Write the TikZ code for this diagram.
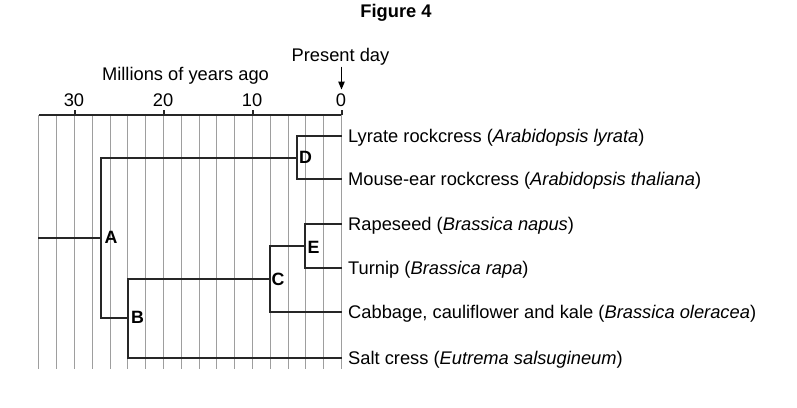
\documentclass[tikz,border=0pt]{standalone}
\usepackage{fontspec}
\setmainfont{Liberation Sans}
\usetikzlibrary{arrows.meta}
\begin{document}
\begin{tikzpicture}[x=1pt,y=-1pt,
  txt/.style={inner sep=0pt,font=\fontsize{18.3}{21}\selectfont},
  leaf/.style={txt,anchor=base west},
  letter/.style={inner sep=0pt,anchor=west,font=\fontsize{17.8}{21}\selectfont\bfseries},
  grid/.style={draw=black!38,line width=1pt},
  axis/.style={draw=black!85,line width=2pt},
  branch/.style={draw=black!85,line width=2pt,line cap=rect}]
\useasboundingbox (0,0) rectangle (797,407);
% grid
\foreach \k in {0,2,...,34}
  \draw[grid] ({round(341-8.9*\k)+0.5},115) -- ({round(341-8.9*\k)+0.5},369);
% axis
\draw[axis] (39,115) -- (341,115);
\foreach \k in {0,10,20,30}{
  \draw[axis] ({round(341-8.9*\k)+0.5},115) -- ({round(341-8.9*\k)+0.5},110);
  \node[txt,anchor=base] at ({341-8.9*\k},106.7) {\k};
}
\node[txt,anchor=base] (title) at (396,17.3) {\bfseries Figure 4};
\node[txt,anchor=base] (present) at (340.5,61.7) {Present day};
\node[txt,anchor=base] (myears) at (185.5,80.7) {Millions of years ago};
\coordinate (arrtop) at (341.5,66.7);
\coordinate (arrbot) at (341.5,89.5);
\draw[line width=1.1pt,-{Triangle[width=6.5pt,length=8pt]}] (arrtop) -- (arrbot);
% leaves
\node[leaf] (lyr) at (348,142.4) {Lyrate rockcress (\textit{Arabidopsis lyrata})};
\node[leaf] (tha) at (348,185.4) {Mouse-ear rockcress (\textit{Arabidopsis thaliana})};
\node[leaf] (nap) at (348,230.4) {Rapeseed (\textit{Brassica napus})};
\node[leaf] (rap) at (348,274.4) {Turnip (\textit{Brassica rapa})};
\node[leaf] (ole) at (348,318.1) {Cabbage, cauliflower and kale (\textit{Brassica oleracea})};
\node[leaf] (sal) at (348,364.1) {Salt cress (\textit{Eutrema salsugineum})};
% leaf ends
\coordinate (t1) at (341,136);
\coordinate (t2) at (341,179);
\coordinate (t3) at (341,224);
\coordinate (t4) at (341,268);
\coordinate (t5) at (341,312);
\coordinate (t6) at (341,358);
% internal nodes
\coordinate (D) at (297,158);
\coordinate (A) at (101,238);
\coordinate (B) at (128,318);
\coordinate (C) at (270,279);
\coordinate (E) at (305,246);
\coordinate (root) at (39,238);
\draw[branch] (t1) -| (D) |- (t2);
\draw[branch] (t3) -| (E) |- (t4);
\draw[branch] (C) |- (t5);
\draw[branch] (D) -| (A) |- (B);
\draw[branch] (root) -- (A);
\draw[branch] (C) -| (B) |- (t6);
\draw[branch] (C) |- (E);
% letters
\node[letter] (lA) at (104.5,237.8) {A};
\node[letter] (lB) at (131,317.8) {B};
\node[letter] (lC) at (271.5,279.7) {C};
\node[letter] (lD) at (299,157.8) {D};
\node[letter] (lE) at (307.5,247.5) {E};
\end{tikzpicture}
\end{document}
